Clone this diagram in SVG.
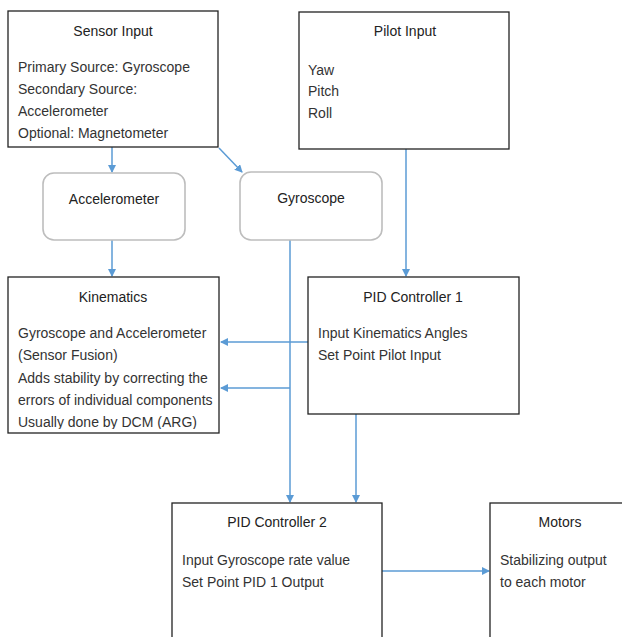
<svg xmlns="http://www.w3.org/2000/svg" width="622" height="637" viewBox="0 0 622 637">
<style>
.box{fill:#fff;stroke:#222;stroke-width:1.3}
.rbox{fill:#fff;stroke:#bdbdbd;stroke-width:1.6}
.title{font-family:"Liberation Sans",Arial,sans-serif;font-size:14px;fill:#222;text-anchor:middle}
.body{font-family:"Liberation Sans",Arial,sans-serif;font-size:14px;fill:#333}
.conn{stroke:#5b9bd5;stroke-width:1.5;fill:none}
</style>
<defs>
<marker id="ah" markerWidth="8" markerHeight="8" refX="7" refY="4" orient="auto" markerUnits="userSpaceOnUse">
<path d="M0,0 L8,4 L0,8 Z" fill="#5b9bd5"/>
</marker>
<clipPath id="kclip"><rect x="8" y="277" width="211" height="152"/></clipPath>
</defs>
<rect width="622" height="637" fill="#fff"/>
<g id="connectors">
<line class="conn" x1="112" y1="147" x2="112" y2="172" marker-end="url(#ah)"/>
<line class="conn" x1="219" y1="148" x2="242" y2="172" marker-end="url(#ah)"/>
<line class="conn" x1="112" y1="240" x2="112" y2="276" marker-end="url(#ah)"/>
<line class="conn" x1="406" y1="149" x2="406" y2="276" marker-end="url(#ah)"/>
<line class="conn" x1="290" y1="240" x2="290" y2="502" marker-end="url(#ah)"/>
<line class="conn" x1="308" y1="342" x2="221" y2="342" marker-end="url(#ah)"/>
<line class="conn" x1="290" y1="388" x2="221" y2="388" marker-end="url(#ah)"/>
<line class="conn" x1="356" y1="414" x2="356" y2="502" marker-end="url(#ah)"/>
<line class="conn" x1="382" y1="571" x2="489" y2="571" marker-end="url(#ah)"/>
</g>
<g id="sensor-input">
<rect class="box" x="8" y="11" width="210" height="136"/>
<text class="title" x="113" y="36">Sensor Input</text>
<text class="body" x="18" y="72">Primary Source: Gyroscope</text>
<text class="body" x="18" y="94">Secondary Source:</text>
<text class="body" x="18" y="116">Accelerometer</text>
<text class="body" x="18" y="138">Optional: Magnetometer</text>
</g>
<g id="pilot-input">
<rect class="box" x="299" y="12" width="210" height="137"/>
<text class="title" x="405" y="36">Pilot Input</text>
<text class="body" x="308" y="75">Yaw</text>
<text class="body" x="308" y="96">Pitch</text>
<text class="body" x="308" y="118">Roll</text>
</g>
<g id="accelerometer">
<rect class="rbox" x="43" y="173" width="142" height="67" rx="11"/>
<text class="title" x="114" y="204">Accelerometer</text>
</g>
<g id="gyroscope">
<rect class="rbox" x="240" y="172" width="142" height="68" rx="11"/>
<text class="title" x="311" y="203">Gyroscope</text>
</g>
<g id="kinematics">
<rect class="box" x="8" y="277" width="211" height="156"/>
<text class="title" x="113" y="302">Kinematics</text>
<g clip-path="url(#kclip)">
<text class="body" x="18" y="338">Gyroscope and Accelerometer</text>
<text class="body" x="18" y="360">(Sensor Fusion)</text>
<text class="body" x="18" y="383">Adds stability by correcting the</text>
<text class="body" x="18" y="405">errors of individual components</text>
<text class="body" x="18" y="427">Usually done by DCM (ARG)</text>
</g>
</g>
<g id="pid1">
<rect class="box" x="308" y="277" width="211" height="137"/>
<text class="title" x="413" y="302">PID Controller 1</text>
<text class="body" x="318" y="338">Input Kinematics Angles</text>
<text class="body" x="318" y="360">Set Point Pilot Input</text>
</g>
<g id="pid2">
<rect class="box" x="172" y="503" width="210" height="150"/>
<text class="title" x="277" y="527">PID Controller 2</text>
<text class="body" x="182" y="565">Input Gyroscope rate value</text>
<text class="body" x="182" y="587">Set Point PID 1 Output</text>
</g>
<g id="motors">
<rect class="box" x="490" y="503" width="150" height="150"/>
<text class="title" x="560" y="527">Motors</text>
<text class="body" x="500" y="565">Stabilizing output</text>
<text class="body" x="500" y="587">to each motor</text>
</g>
</svg>
